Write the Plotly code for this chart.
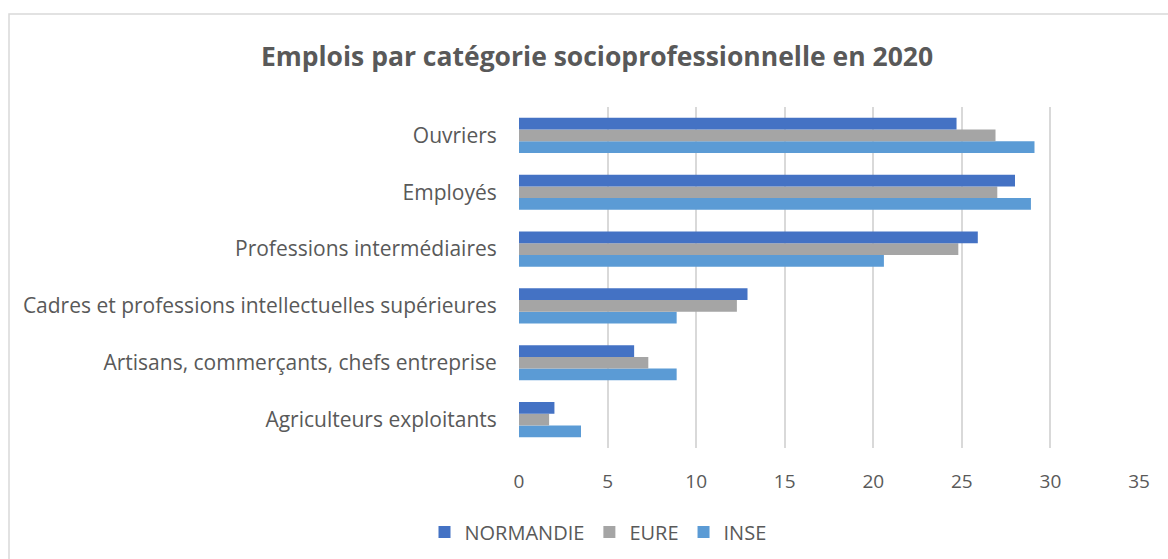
import plotly.graph_objects as go

categories = [
    "Agriculteurs exploitants",
    "Artisans, commerçants, chefs entreprise",
    "Cadres et professions intellectuelles supérieures",
    "Professions intermédiaires",
    "Employés",
    "Ouvriers",
]
normandie = [2.0, 6.5, 12.9, 25.9, 28.0, 24.7]
eure = [1.7, 7.3, 12.3, 24.8, 27.0, 26.9]
inse = [3.5, 8.9, 8.9, 20.6, 28.9, 29.1]
x_ticks = [0, 5, 10, 15, 20, 25, 30, 35]

series = [
    ("INSE", inse, "#5B9BD5"),
    ("EURE", eure, "#A5A5A5"),
    ("NORMANDIE", normandie, "#4472C4"),
]

FONT = "'Open Sans', 'Noto Sans', sans-serif"

fig = go.Figure()
for name, vals, col in series:
    fig.add_trace(go.Bar(
        y=categories, x=vals, name=name, orientation="h",
        marker=dict(color=col, line=dict(width=0)),
    ))

W, H = 1168, 559
L, R, T, B = 519, 29, 107, 111
pw = W - L - R
ph = H - T - B

def px_x(p):
    return (p - L) / pw

def px_y(p):
    return (H - B - p) / ph

fig.update_layout(
    width=W, height=H,
    margin=dict(l=L, r=R, t=T, b=B, autoexpand=False),
    paper_bgcolor="white", plot_bgcolor="white",
    barmode="group", bargap=0.38, bargroupgap=0,
    font=dict(family=FONT, color="#595959", size=20),
    title=dict(
        text="<b>Emplois par catégorie socioprofessionnelle en 2020</b>",
        x=597 / W, xref="container", xanchor="center",
        y=1 - 57 / H, yref="container", yanchor="middle",
        font=dict(size=26.5, color="#595959", family=FONT),
    ),
    legend=dict(
        orientation="h", traceorder="reversed",
        x=px_x(598), xanchor="center", y=px_y(532), yanchor="middle",
        font=dict(size=20, color="#595959"),
        itemwidth=30,
    ),
    xaxis=dict(
        range=[0, 35], tickvals=x_ticks, showgrid=True, gridcolor="#D9D9D9", gridwidth=1.5,
        zeroline=False, showline=False,
        ticks="outside", ticklen=16, tickcolor="rgba(0,0,0,0)",
        tickfont=dict(size=19, color="#595959"),
        fixedrange=True,
    ),
    yaxis=dict(
        categoryorder="array", categoryarray=categories,
        showgrid=False, zeroline=False, showline=False,
        ticks="outside", ticklen=17, tickcolor="rgba(0,0,0,0)",
        tickfont=dict(size=21, color="#595959"),
        fixedrange=True,
    ),
    shapes=[dict(
        type="rect", xref="paper", yref="paper",
        x0=px_x(9), x1=px_x(1180), y0=px_y(575), y1=px_y(14),
        line=dict(color="#D9D9D9", width=1.5), fillcolor="rgba(0,0,0,0)", layer="below",
    )],
)

fig.write_html(
    "out.html",
    config={"displayModeBar": False},
    post_script="document.body.style.margin='0';document.body.style.overflow='hidden';",
)
